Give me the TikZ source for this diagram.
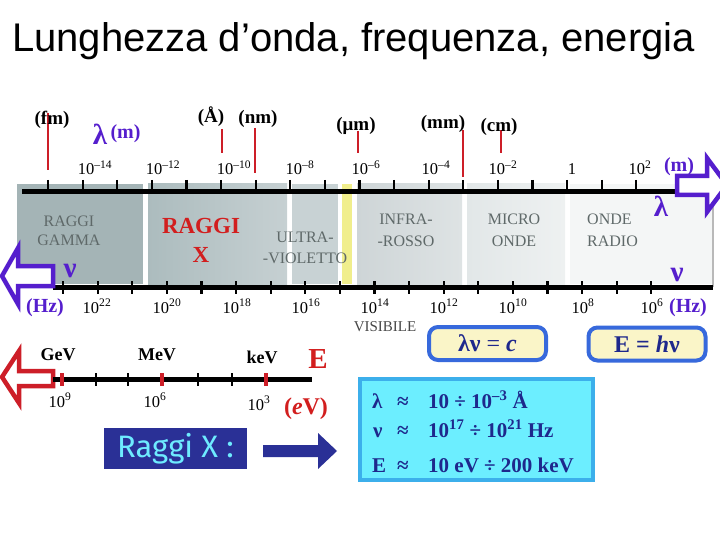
\documentclass[tikz,border=0pt]{standalone}
\usepackage{fontspec}
\setmainfont{Liberation Serif}
\newfontfamily\titlefont{Liberation Sans}
\newfontfamily\boxfont{Fira Sans}
\usepackage{xcolor}
\usetikzlibrary{positioning}

\definecolor{lamblue}{RGB}{85,30,205}
\definecolor{unitred}{RGB}{205,30,40}
\definecolor{bandgray}{RGB}{95,105,105}
\definecolor{xred}{RGB}{210,30,30}
\definecolor{gammaband}{RGB}{164,180,182}
\definecolor{xbandL}{RGB}{172,188,190}
\definecolor{xbandR}{RGB}{198,208,210}
\definecolor{uvband}{RGB}{200,210,212}
\definecolor{visyellow}{RGB}{240,238,140}
\definecolor{irbandL}{RGB}{206,213,215}
\definecolor{irbandR}{RGB}{222,227,228}
\definecolor{mwbandL}{RGB}{226,231,232}
\definecolor{mwbandR}{RGB}{238,241,241}
\definecolor{radioband}{RGB}{244,246,246}
\definecolor{navy}{RGB}{42,48,150}
\definecolor{raggicyan}{RGB}{110,235,255}
\definecolor{boxcyan}{RGB}{108,238,255}
\definecolor{boxedge}{RGB}{60,175,235}
\definecolor{eqedge}{RGB}{55,105,220}
\definecolor{eqfill}{RGB}{250,245,200}
\definecolor{eqtext}{RGB}{30,40,140}

\tikzset{
  axis/.style={line width=5pt},
  tickmark/.style={line width=2.2pt},
  unitmark/.style={unitred,line width=2.5pt},
  unitlab/.style={font=\fontsize{19}{20}\selectfont\bfseries,inner sep=0pt},
  ticklab/.style={font=\fontsize{16.5}{18}\selectfont,inner sep=0pt},
  bandlab/.style={font=\fontsize{16}{18}\selectfont,text=bandgray,inner sep=0pt},
  greek/.style={text=lamblue,font=\fontsize{29}{29}\selectfont\bfseries,inner sep=0pt},
  bluelab/.style={text=lamblue,font=\fontsize{20}{20}\selectfont\bfseries,inner sep=0pt},
  hollowarrow/.style={line width=4.5pt,fill=white,line join=miter},
  eqbox/.style={draw=eqedge,line width=4pt,fill=eqfill,rounded corners=9pt,
    minimum width=117pt,minimum height=33pt,text=eqtext,
    font=\fontsize{24}{24}\selectfont\bfseries},
  rangetxt/.style={text=eqtext,font=\fontsize{21}{21}\selectfont\bfseries,
    inner sep=0pt,anchor=base west}
}

\begin{document}
\begin{tikzpicture}[x=1pt,y=-1pt]
\useasboundingbox (0,0) rectangle (720,540);

\node[anchor=base west,inner sep=0pt,font=\titlefont\fontsize{40}{40}\selectfont]
  (title) at (12,52) {Lunghezza d’onda, frequenza, energia};

% spectrum bands
\fill[gammaband] (17,184) rectangle (143,284);
\shade[left color=xbandL,right color=xbandR] (148,184) rectangle (287,284);
\fill[uvband] (292,184) rectangle (338,284);
\fill[visyellow] (342,184) rectangle (352,284);
\shade[left color=irbandL,right color=irbandR] (357,184) rectangle (462,284);
\shade[left color=mwbandL,right color=mwbandR] (467,184) rectangle (565,284);
\fill[radioband] (570,184) rectangle (713,284);
\draw[gray!55,line width=1.5pt] (713,184) -- (713,287);

\node[bandlab,align=center] (gamma) at (69,231) {RAGGI\\[1pt]GAMMA};
\node[text=xred,font=\fontsize{23}{29}\selectfont\bfseries,align=center,inner sep=0pt]
  (xray) at (201,240) {RAGGI\\X};
\node[bandlab,align=center] (uv) at (305,248) {ULTRA-\\[3pt]-VIOLETTO};
\node[bandlab,align=center] (ir) at (406,230) {INFRA-\\[4pt]-ROSSO};
\node[bandlab,align=center] (mw) at (514,230) {MICRO\\[4pt]ONDE};
\node[bandlab,align=left,anchor=north west] (radio) at (587,214) {ONDE\\[4pt]RADIO};
\node[font=\fontsize{15}{15}\selectfont,text=black!72,inner sep=0pt] (vis) at (385,327) {VISIBILE};

% wavelength axis
\coordinate (wlL) at (22,192);
\coordinate (wlR) at (678,192);
\draw[axis] (wlL) -- (wlR);
\foreach \i in {0,...,17}
  \draw[tickmark] ({48+34.6*\i},180) -- ({48+34.6*\i},192);
\foreach \x/\e [count=\k] in {95/{–14},163/{–12},234/{–10},300/{–8},366/{–6},436/{–4},503/{–2},640/2}
  \node[ticklab,anchor=base] (wl\k) at (\x,175) {10\textsuperscript{\e}};
\node[ticklab,anchor=base] (wl0) at (572,175) {1};

% unit markers
\foreach \x/\ya/\yb in {48/113/170,222/129/153,255/128/173,358/131/153,463/130/177,501/130/153}
  \draw[unitmark] (\x,\ya) -- (\x,\yb);
\node[unitlab] (fm) at (52,120) {(fm)};
\node[unitlab] (ang) at (211,117) {(Å)};
\node[unitlab] (nm) at (258,119) {(nm)};
\node[unitlab] (mum) at (356,126) {(μm)};
\node[unitlab] (mm) at (443,124) {(mm)};
\node[unitlab] (cm) at (499,127) {(cm)};

\node[greek] (lamL) at (100,134) {λ};
\node[bluelab,right=3pt of lamL] (mL) {(m)};
\node[bluelab] (mR) at (679,167) {(m)};
\node[greek] (lamR) at (661,206) {λ};

% frequency axis
\coordinate (fqL) at (53,287);
\coordinate (fqR) at (713,287);
\draw[axis] (fqL) -- (fqR);
\foreach \i in {0,...,17}
  \draw[tickmark] ({63+34.6*\i},281) -- ({63+34.6*\i},294);
\foreach \x/\e in {97/22,167/20,237/18,306/16,375/14,444/12,513/10,583/8,652/6}
  \node[ticklab,anchor=base] (fq\e) at (\x,313) {10\textsuperscript{\e}};
\node[greek] (nuL) at (70,271) {ν};
\node[greek] (nuR) at (677,275) {ν};
\node[bluelab,anchor=base] (hzL) at (45,312) {(Hz)};
\node[bluelab,anchor=base] (hzR) at (688,312) {(Hz)};

% outline arrows
\draw[hollowarrow,draw=lamblue] (677,176) -- (707,176) -- (707,158) -- (727,185)
  -- (707,212) -- (707,195) -- (677,195) -- cycle;
\draw[hollowarrow,draw=lamblue] (53,266) -- (18,266) -- (18,248) -- (2,276)
  -- (18,304) -- (18,286) -- (53,286) -- cycle;
\draw[hollowarrow,draw=unitred] (53,371) -- (19,371) -- (19,351) -- (2,377)
  -- (19,403) -- (19,386) -- (53,386) -- cycle;

% energy axis
\coordinate (enL) at (53,379);
\coordinate (enR) at (312,379);
\draw[axis] (enL) -- (enR);
\foreach \x in {96,128,198,232}
  \draw[tickmark] (\x,373) -- (\x,386);
\foreach \x in {62,162,266}
  \draw[unitmark,line width=4pt] (\x,373) -- (\x,386);
\node[unitlab,font=\fontsize{18}{18}\selectfont\bfseries] (gev) at (58,355) {GeV};
\node[unitlab,font=\fontsize{18}{18}\selectfont\bfseries] (mev) at (157,355) {MeV};
\node[unitlab,font=\fontsize{18}{18}\selectfont\bfseries] (kev) at (262,357) {keV};
\node[ticklab,anchor=base] (e9) at (60,407) {10\textsuperscript{9}};
\node[ticklab,anchor=base] (e6) at (155,407) {10\textsuperscript{6}};
\node[ticklab,anchor=base] (e3) at (259,410) {10\textsuperscript{3}};
\node[text=xred,font=\fontsize{29}{29}\selectfont\bfseries,inner sep=0pt] (E) at (318,359) {E};
\node[text=xred,font=\fontsize{24}{24}\selectfont\bfseries,inner sep=0pt] (ev) at (306,409) {(\textit{e}V)};

% X-ray box
\node[fill=navy,minimum width=143pt,minimum height=41pt,inner sep=0pt,
  text=raggicyan,font=\boxfont\fontsize{31}{31}\selectfont] (raggi) at (175.5,448.5) {Raggi X :};
\fill[navy] (263,445) -- (318,445) -- (318,433) -- (337,451) -- (318,469)
  -- (318,457) -- (263,457) -- cycle;

% formulas
\node[eqbox] (lamnu) at (487.5,343.5) {λν \textmd{=} \textit{c}};
\node[eqbox] (ehnu) at (647,344) {E = \textit{h}ν};

\node[draw=boxedge,line width=4pt,fill=boxcyan,minimum width=233pt,
  minimum height=101pt] (range) at (476.5,429.5) {};
\node[rangetxt] (rl1) at (372,408) {λ};
\node[rangetxt] (rl2) at (397,408) {≈};
\node[rangetxt] (rl3) at (428,408) {10 ÷ 10\textsuperscript{–3} Å};
\node[rangetxt] (rn1) at (373,437) {ν};
\node[rangetxt] (rn2) at (397,437) {≈};
\node[rangetxt] (rn3) at (428,437) {10\textsuperscript{17} ÷ 10\textsuperscript{21} Hz};
\node[rangetxt] (re1) at (372,472) {E};
\node[rangetxt] (re2) at (397,472) {≈};
\node[rangetxt] (re3) at (428,472) {10 eV ÷ 200 keV};
\end{tikzpicture}
\end{document}
